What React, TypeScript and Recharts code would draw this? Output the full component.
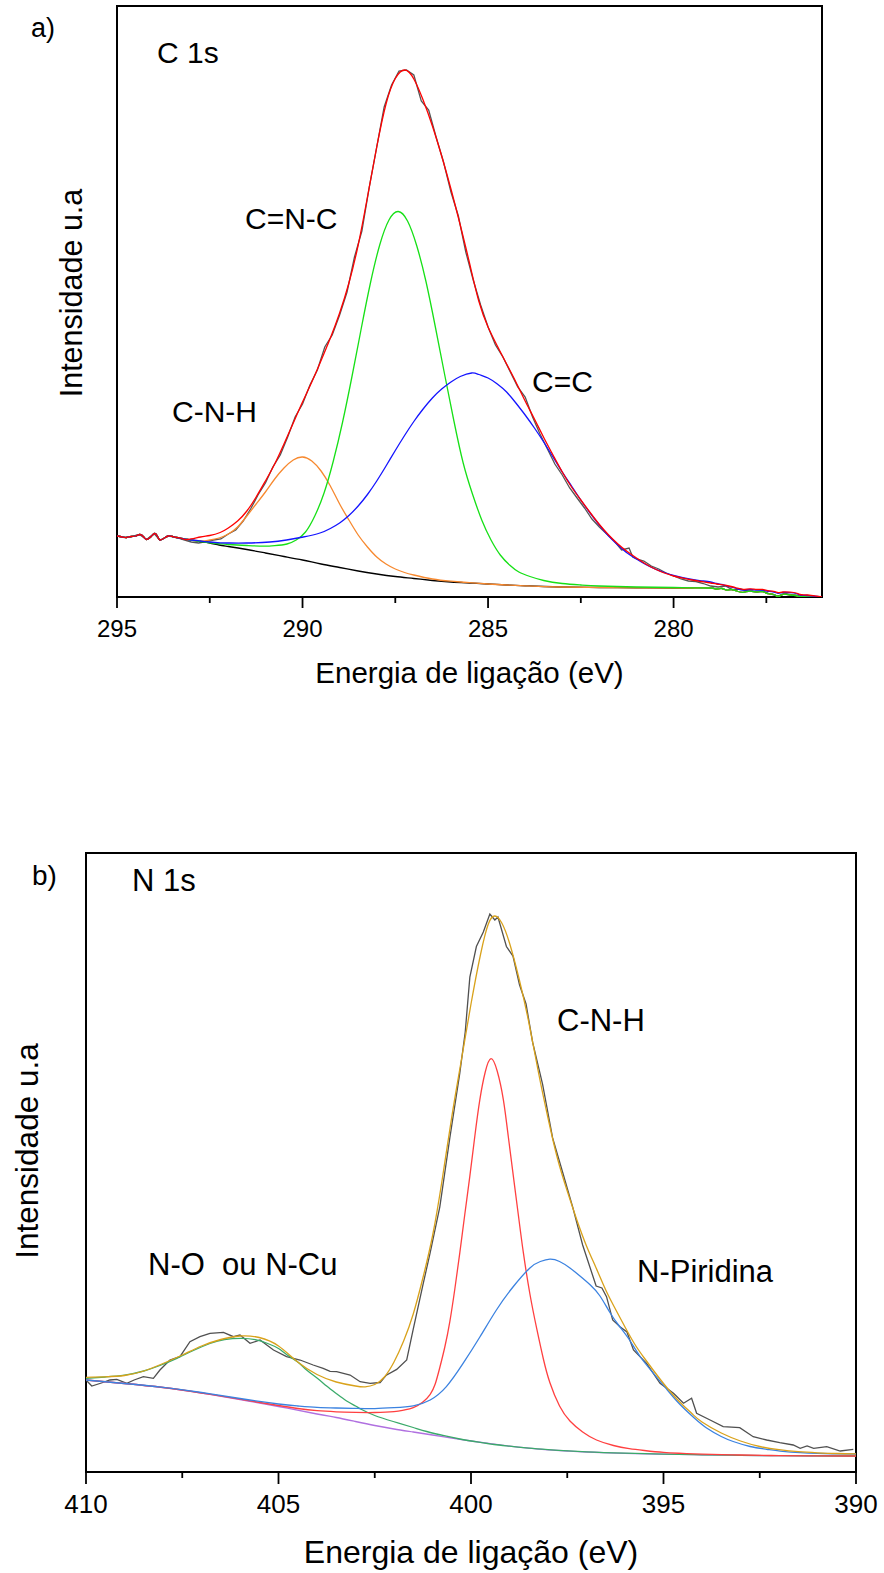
import React from 'react';
import { LineChart, Line, XAxis, YAxis, ReferenceArea } from 'recharts';

const FONT = '"Liberation Sans", Arial, Helvetica, sans-serif';

type Pt = [number, number];

// ---------- a) C 1s ----------
const cTicks = [295, 292.5, 290, 287.5, 285, 282.5, 280, 277.5];

// noisy start shared by all fitted curves
const cEdgeLeft: Pt[] = [
  [295, 61], [294.86, 60], [294.74, 59.5], [294.62, 60.5], [294.5, 61], [294.38, 62.5],
  [294.28, 60], [294.2, 57.5], [294.08, 60.5], [293.98, 63.5], [293.9, 60], [293.84, 57],
  [293.72, 59], [293.62, 61], [293.5, 60.5], [293.39, 59.5], [293.25, 58.5], [293.1, 57.5],
];

// noisy end of the background (black / green / orange)
const cBgRight: Pt[] = [
  [279, 9], [278.84, 8], [278.7, 8.5], [278.57, 7], [278.45, 7.5], [278.3, 6], [278.13, 4.7],
  [277.94, 6], [277.76, 5], [277.6, 5.5], [277.49, 3.7], [277.3, 2.5], [277.18, 0.5],
  [277.05, 2.7], [276.86, 2], [276.7, 1.5], [276.59, 0.3], [276.4, 0.8], [276.14, 0], [276, 0],
];

const cBackground: Pt[] = [
  [292.75, 55.5], [292.5, 54], [292.25, 52], [292, 50.5], [291.5, 47.5], [291, 44], [290.5, 40.5],
  [290, 37], [289.5, 33], [289, 29.5], [288.5, 26], [288, 23], [287.5, 20.5], [287, 18.5],
  [286.5, 16.5], [286, 15], [285.5, 14], [285, 13], [284.5, 12], [284, 11.2], [283.5, 10.5],
  [283, 10], [282, 9.5], [281, 9.2], [280, 9], [279.5, 9],
];

const cCNH: Pt[] = [
  [292.75, 56], [292.5, 57], [292.25, 59], [292, 63], [291.75, 70], [291.5, 81], [291.25, 93],
  [291, 105], [290.75, 118], [290.5, 129], [290.25, 137], [290, 140], [289.75, 136], [289.5, 126],
  [289.25, 111], [289, 93], [288.75, 77], [288.5, 62], [288.25, 50], [288, 40], [287.75, 33],
  [287.5, 28], [287.25, 24.5], [287, 22], [286.5, 18], [286, 15.8], [285.5, 14.3], [285, 13],
  [284.5, 12], [284, 11.2], [283, 10], [281, 9.2], [279.5, 9],
];

const cCNC: Pt[] = [
  [292.75, 55.5], [292.5, 54.2], [292.22, 53.2], [292, 52.5], [291.5, 51.5], [291.06, 50.8],
  [290.75, 51.3], [290.42, 53], [290.17, 57], [289.92, 65], [289.67, 81], [289.42, 104],
  [289.17, 136], [288.92, 175], [288.67, 220], [288.42, 268], [288.17, 314], [287.92, 352],
  [287.67, 377], [287.42, 385.5], [287.17, 376], [286.92, 351], [286.67, 315], [286.42, 270],
  [286.17, 222.5], [285.92, 176], [285.67, 134], [285.42, 103], [285.17, 77], [284.92, 57],
  [284.67, 42], [284.42, 32], [284.17, 25], [283.87, 20.5], [283.5, 16.5], [283, 13.5],
  [282.5, 12], [282, 11], [281, 10], [280, 9.5], [279.5, 9.2],
];

const cCC: Pt[] = [
  [292.75, 56], [292.5, 55], [292.22, 54.2], [292, 54], [291.5, 54], [290.88, 55], [290.43, 57],
  [289.98, 60], [289.53, 64], [289.25, 68.5], [289, 74], [288.75, 81.5], [288.5, 91],
  [288.25, 102.5], [288, 116], [287.75, 131], [287.5, 146.5], [287.25, 161.5], [287, 175.5],
  [286.75, 188], [286.5, 199], [286.25, 208], [286, 215], [285.75, 220.5], [285.44, 224],
  [285.25, 222.5], [285, 219], [284.75, 213], [284.5, 205], [284.25, 194], [284, 182],
  [283.75, 169], [283.5, 155], [283.25, 140], [283, 125], [282.75, 111], [282.5, 97],
  [282.25, 84], [282, 72], [281.75, 61], [281.5, 52], [281.25, 44], [281, 38], [280.75, 32.5],
  [280.5, 28], [280.25, 24.5], [280, 21.5], [279.75, 19.3], [279.5, 17.5], [279.25, 16.2],
  [279, 15], [278.84, 13.5], [278.7, 12.5], [278.57, 11.2], [278.45, 10], [278.3, 8.5],
  [278.13, 7], [277.94, 7.5], [277.76, 7], [277.6, 6.8], [277.49, 6], [277.3, 5], [277.18, 3.7],
  [277.05, 4.5], [276.86, 4.3], [276.7, 3.5], [276.59, 2], [276.4, 1.5], [276.14, 0.5], [276, 0],
];

const cEnvelope: Pt[] = [
  [292.75, 60], [292.5, 61.5], [292.22, 64.5], [292, 69], [291.75, 76], [291.5, 86], [291.25, 100],
  [291, 116], [290.75, 133], [290.5, 153], [290.25, 174], [290, 195], [289.75, 215], [289.5, 236.5],
  [289.25, 259], [289, 284], [288.75, 314], [288.5, 352], [288.25, 400], [288, 450], [287.75, 493],
  [287.5, 518.5], [287.24, 527], [287, 518], [286.75, 497], [286.5, 471], [286.25, 441], [286, 408],
  [285.75, 372], [285.5, 334], [285.25, 296], [285, 270], [284.75, 251], [284.5, 233],
  [284.25, 215], [284, 196], [283.75, 178], [283.5, 159.5], [283.25, 142], [283, 125],
  [282.75, 110], [282.5, 97], [282.25, 84.5], [282, 72.5], [281.75, 62], [281.5, 53],
  [281.25, 45.5], [281, 39], [280.75, 33], [280.5, 28], [280.25, 24], [280, 21],
  [279.75, 18.8], [279.5, 17], [279.25, 15.5], [279, 14], [278.84, 13], [278.7, 12.3],
  [278.57, 11.5], [278.45, 10.5], [278.3, 9], [278.13, 7.6], [277.94, 8.2], [277.76, 7.6],
  [277.6, 7.6], [277.49, 6.6], [277.3, 5.6], [277.18, 4.3], [277.05, 5], [276.86, 4.8],
  [276.7, 4], [276.59, 2.5], [276.4, 2], [276.14, 0.8], [276, 0],
];

const cRaw: Pt[] = [
  [295, 61], [294.8, 59.5], [294.6, 60.5], [294.4, 62.5], [294.2, 57.5], [294, 63.5], [293.85, 57],
  [293.6, 61], [293.4, 59.5], [293.2, 57], [293, 55], [292.8, 54], [292.6, 55.5], [292.4, 57],
  [292.2, 58], [292, 63], [291.8, 67], [291.6, 76], [291.4, 88], [291.2, 102], [291, 114],
  [290.8, 130], [290.6, 142], [290.4, 160], [290.2, 180], [290, 193], [289.8, 212], [289.6, 227],
  [289.4, 250], [289.2, 262], [289, 282], [288.8, 305], [288.6, 340], [288.4, 366], [288.2, 410],
  [288, 450], [287.8, 490], [287.6, 512], [287.4, 526], [287.2, 527], [287, 522], [286.8, 496],
  [286.6, 487], [286.4, 460], [286.2, 435], [286, 405], [285.8, 381], [285.6, 345], [285.4, 317],
  [285.2, 292], [285, 270], [284.8, 252], [284.6, 240], [284.4, 225], [284.2, 210], [284, 200],
  [283.8, 180], [283.6, 163], [283.4, 148], [283.2, 133], [283, 122], [282.8, 109], [282.6, 99],
  [282.4, 89], [282.2, 78], [282, 70], [281.8, 63], [281.6, 56], [281.4, 47], [281.2, 49],
  [281.1, 40], [281, 38], [280.8, 36], [280.6, 31], [280.4, 28], [280.2, 24], [280, 21],
  [279.8, 18], [279.6, 16], [279.4, 15.5], [279.2, 13.5], [279, 11], [278.8, 10], [278.6, 11],
  [278.4, 7], [278.2, 8], [278, 6], [277.8, 5.5], [277.6, 6], [277.4, 3], [277.2, 1], [277, 3.5],
  [276.8, 2], [276.6, 1], [276.4, 1.5], [276.2, 0.5], [276, 0],
];

// ---------- b) N 1s ----------
const nTicks = [410, 407.5, 405, 402.5, 400, 397.5, 395, 392.5, 390];

const nBackground: Pt[] = [
  [410, 92], [409, 88.5], [408, 84.5], [407, 79], [406, 72.5], [405, 65.5], [404, 58],
  [403.5, 54.5], [403, 50.5], [402.5, 46.5], [402, 43], [401.5, 40], [401, 37], [400.5, 34],
  [400, 31], [399.5, 28.3], [399, 25.8], [398.5, 23.8], [398, 22.2], [397.5, 21], [397, 20],
  [396, 18.7], [395, 17.8], [394, 17.2], [393, 16.7], [392, 16.3], [391, 16.1], [390, 16],
];

const nNO: Pt[] = [
  [410, 93.7], [409.5, 95], [409, 96.8], [408.5, 101], [408.08, 106.5], [407.64, 113.7],
  [407.21, 121.5], [406.78, 128.5], [406.4, 132.5], [405.96, 133.7], [405.6, 132.3],
  [405.28, 128.5], [405, 123.5], [404.79, 117.5], [404.5, 110], [404.27, 102], [404, 94],
  [403.75, 86], [403.5, 78.5], [403.23, 71], [403, 66], [402.84, 62.5], [402.5, 56.5],
  [402.02, 50.5], [401.5, 44.5], [401.15, 40.5], [400.7, 36.3], [400.29, 33], [399.8, 29.8],
  [399.4, 27.5], [399, 25.8], [398.5, 23.8], [398, 22.3], [397, 20.1], [396, 18.8], [395, 17.9],
  [394, 17.2], [393, 16.7], [392, 16.3], [391, 16.1], [390, 16],
];

const nCNH: Pt[] = [
  [410, 92], [409, 88.5], [408, 84.5], [407, 79], [406, 72.8], [405, 66.5], [404.5, 63.5],
  [404, 61.3], [403.5, 60.2], [403, 59.6], [402.5, 59.5], [402, 60.3], [401.75, 61.8],
  [401.5, 64.3], [401.25, 70], [401.06, 77.7], [400.93, 88], [400.81, 104.5], [400.68, 125],
  [400.55, 150.4], [400.42, 183], [400.29, 219.3], [400.16, 258], [400.03, 295.8], [399.9, 336],
  [399.77, 372.4], [399.63, 400], [399.48, 413.3], [399.32, 401], [399.16, 372.4], [399.03, 335],
  [398.9, 295.8], [398.77, 257], [398.64, 219.3], [398.47, 178], [398.29, 142.8], [398.12, 113],
  [397.95, 89.2], [397.7, 66], [397.43, 51], [397.1, 40], [396.74, 32], [396.3, 26.5],
  [395.89, 23.4], [395.5, 21.5], [395, 19.6], [394.5, 18.6], [394, 17.8], [393, 17],
  [392, 16.4], [391, 16.1], [390, 16],
];

const nPyridine: Pt[] = [
  [410, 92], [409, 88.5], [408, 84.6], [407, 79.5], [406, 73.5], [405, 68], [404.5, 66],
  [404, 64.6], [403.5, 64], [403, 63.6], [402.5, 63.4], [402, 64.3], [401.5, 66.2], [401.06, 72],
  [400.64, 85.4], [400.21, 108.3], [399.77, 135], [399.34, 162], [398.91, 185], [398.47, 204],
  [398.2, 210.5], [397.95, 212.8], [397.7, 210.5], [397.43, 204], [397.17, 196], [396.9, 187],
  [396.65, 176], [396.4, 160], [396.15, 146], [395.9, 133], [395.6, 115], [395.26, 98.7],
  [394.9, 82], [394.57, 67.5], [394.2, 54], [393.88, 44], [393.5, 35.5], [393.19, 30.5],
  [392.75, 25.5], [392.32, 22.7], [391.9, 20.6], [391.45, 19.3], [391, 18.6], [390.5, 18.2],
  [390, 18],
];

const nEnvelope: Pt[] = [
  [410, 94.7], [409.5, 95.2], [409, 96.5], [408.5, 101], [408, 108.5], [407.5, 117], [407, 126],
  [406.5, 132.5], [406, 136], [405.5, 134.5], [405, 126], [404.5, 110], [404, 97.5], [403.5, 90],
  [403, 86], [402.75, 85.2], [402.5, 87.5], [402.25, 95], [402, 110], [401.75, 131], [401.5, 158],
  [401.25, 194], [401, 236], [400.75, 292], [400.5, 355], [400.25, 412], [400, 468],
  [399.75, 518], [399.55, 548], [399.38, 556], [399.2, 549], [399, 529], [398.75, 493],
  [398.5, 450], [398.25, 400], [398, 354], [397.75, 313], [397.5, 281], [397.25, 252], [397, 226],
  [396.75, 204], [396.5, 182], [396.25, 163], [396, 145], [395.75, 128], [395.5, 114],
  [395.25, 101], [395, 88.5], [394.75, 77], [394.5, 67], [394.25, 58], [394, 50], [393.5, 39],
  [393, 31], [392.5, 25.5], [392, 22.3], [391.5, 20.3], [391, 19.2], [390.5, 18.5], [390, 18.2],
];

const nRaw: Pt[] = [
  [410, 92], [409.85, 86], [409.6, 89], [409.38, 92], [409.2, 92.7], [408.94, 88.7], [408.75, 92],
  [408.51, 95.3], [408.25, 93.7], [408.08, 102], [407.82, 112], [407.56, 115.3], [407.3, 130.3],
  [407.04, 135.3], [406.78, 138.7], [406.43, 139.7], [406.17, 135.3], [406, 137], [405.74, 128.7],
  [405.48, 132], [405.13, 122], [404.79, 115.3], [404.44, 112], [404.1, 107], [403.84, 103.7],
  [403.66, 100.7], [403.49, 100.3], [403.14, 97], [402.88, 90.3], [402.62, 88.7], [402.36, 89.5],
  [402.2, 96.8], [401.93, 102.6], [401.67, 112.1], [401.5, 142.8], [401.24, 188.7],
  [401.06, 219.3], [400.81, 265.2], [400.55, 334.1], [400.29, 399.2], [400.15, 440],
  [400.03, 494.8], [399.86, 525.5], [399.68, 540], [399.51, 558], [399.38, 552], [399.3, 555],
  [399.08, 525.5], [398.91, 515.9], [398.74, 487.2], [398.57, 468], [398.4, 429.8],
  [398.14, 387.7], [397.88, 334.1], [397.62, 299.7], [397.36, 265.2], [397.1, 227],
  [396.75, 186], [396.6, 184], [396.48, 175.3], [396.32, 152], [396.13, 145.3], [395.95, 140],
  [395.78, 122], [395.44, 108.7], [395.09, 88.7], [394.74, 78.7], [394.48, 68.7], [394.27, 73.7],
  [394.14, 58.7], [393.79, 52], [393.45, 45.3], [393.02, 44.3], [392.67, 35.3], [392.32, 32],
  [391.98, 29.3], [391.63, 27], [391.45, 23.7], [391.27, 26], [391.1, 23.7], [390.76, 25.3],
  [390.41, 21], [390.07, 22.7],
];

const pts = (arr: Pt[]) => arr.map(([e, v]) => ({ e, v }));

const makeTick = (fontSize: number, major: number, minor: number, dy: number) => (props: any) => {
  const { x, y, payload } = props;
  const isMajor = payload.value % 5 === 0;
  return (
    <g>
      <line x1={x} x2={x} y1={y} y2={y + (isMajor ? major : minor)} stroke="#000" strokeWidth={1.8} />
      {isMajor && (
        <text x={x} y={y + dy} textAnchor="middle" fontSize={fontSize} fontFamily={FONT} fill="#000">
          {payload.value}
        </text>
      )}
    </g>
  );
};

function C1sChart() {
  const lines = [
    { name: 'raw', data: cRaw, color: '#555555', curve: 'linear' },
    { name: 'bg', data: [...cEdgeLeft, ...cBackground, ...cBgRight], color: '#000000', curve: 'natural' },
    { name: 'C-N-H', data: [...cEdgeLeft, ...cCNH, ...cBgRight], color: '#f7892f', curve: 'natural' },
    { name: 'C=N-C', data: [...cEdgeLeft, ...cCNC, ...cBgRight], color: '#16e016', curve: 'natural' },
    { name: 'C=C', data: [...cEdgeLeft, ...cCC], color: '#1414ff', curve: 'natural' },
    { name: 'fit', data: [...cEdgeLeft, ...cEnvelope], color: '#ff0000', curve: 'natural' },
  ];
  return (
    <LineChart width={884} height={700} margin={{ top: 6, right: 62, bottom: 43, left: 117 }}>
      <XAxis
        dataKey="e" type="number" domain={[276, 295]} reversed allowDataOverflow
        ticks={cTicks} interval={0} tickLine={false} axisLine={false}
        tickSize={0} tickMargin={0} height={60} tick={makeTick(24, 11, 6, 40)}
      />
      <YAxis type="number" domain={[0, 591]} hide allowDataOverflow />
      {lines.map((l) => (
        <Line
          key={l.name} data={pts(l.data)} dataKey="v" type={l.curve as any} dot={false}
          stroke={l.color} strokeWidth={1.3} isAnimationActive={false}
        />
      ))}
      <ReferenceArea x1={276} x2={295} y1={0} y2={591} fill="none" stroke="#000" strokeWidth={2} />
    </LineChart>
  );
}

function N1sChart() {
  const lines = [
    { name: 'raw', data: nRaw, color: '#505050', curve: 'linear' },
    { name: 'bg', data: nBackground, color: '#b070e0', curve: 'natural' },
    { name: 'N-O', data: nNO, color: '#3aaa6a', curve: 'natural' },
    { name: 'C-N-H', data: nCNH, color: '#ff4040', curve: 'natural' },
    { name: 'N-Piridina', data: nPyridine, color: '#3b82e0', curve: 'natural' },
    { name: 'fit', data: nEnvelope, color: '#d9a21b', curve: 'natural' },
  ];
  return (
    <LineChart width={884} height={773} margin={{ top: 53, right: 28, bottom: 41, left: 86 }}>
      <XAxis
        dataKey="e" type="number" domain={[390, 410]} reversed allowDataOverflow
        ticks={nTicks} interval={0} tickLine={false} axisLine={false}
        tickSize={0} tickMargin={0} height={60} tick={makeTick(26, 12, 6, 41)}
      />
      <YAxis type="number" domain={[0, 619]} hide allowDataOverflow />
      {lines.map((l) => (
        <Line
          key={l.name} data={pts(l.data)} dataKey="v" type={l.curve as any} dot={false}
          stroke={l.color} strokeWidth={1.3} isAnimationActive={false}
        />
      ))}
      <ReferenceArea x1={390} x2={410} y1={0} y2={619} fill="none" stroke="#000" strokeWidth={2} />
    </LineChart>
  );
}

export default function App() {
  return (
    <div style={{ position: 'absolute', left: 0, top: 0, width: 884, height: 1573, background: '#fff' }}>
      <div style={{ position: 'absolute', left: 0, top: 0 }}>
        <C1sChart />
      </div>
      <div style={{ position: 'absolute', left: 0, top: 800 }}>
        <N1sChart />
      </div>
      <svg
        width={884} height={1573}
        style={{ position: 'absolute', left: 0, top: 0, pointerEvents: 'none' }}
        fontFamily={FONT} fill="#000"
      >
        <text x={31} y={37} fontSize={27}>a)</text>
        <text x={157} y={63} fontSize={30}>C 1s</text>
        <text x={245} y={229} fontSize={30}>C=N-C</text>
        <text x={172} y={422} fontSize={30}>C-N-H</text>
        <text x={532} y={392} fontSize={30}>C=C</text>
        <text x={469.5} y={683} fontSize={29.5} textAnchor="middle">Energia de ligação (eV)</text>
        <text transform="translate(82,293) rotate(-90)" fontSize={30.5} textAnchor="middle">Intensidade u.a</text>

        <text x={32} y={885} fontSize={28}>b)</text>
        <text x={132} y={891} fontSize={31}>N 1s</text>
        <text x={557} y={1031} fontSize={31}>C-N-H</text>
        <text x={637} y={1282} fontSize={31}>N-Piridina</text>
        <text x={148} y={1275} fontSize={31} style={{ whiteSpace: 'pre' }}>N-O  ou N-Cu</text>
        <text x={471} y={1563} fontSize={32} textAnchor="middle">Energia de ligação (eV)</text>
        <text transform="translate(38,1151) rotate(-90)" fontSize={31.5} textAnchor="middle">Intensidade u.a</text>
      </svg>
    </div>
  );
}
